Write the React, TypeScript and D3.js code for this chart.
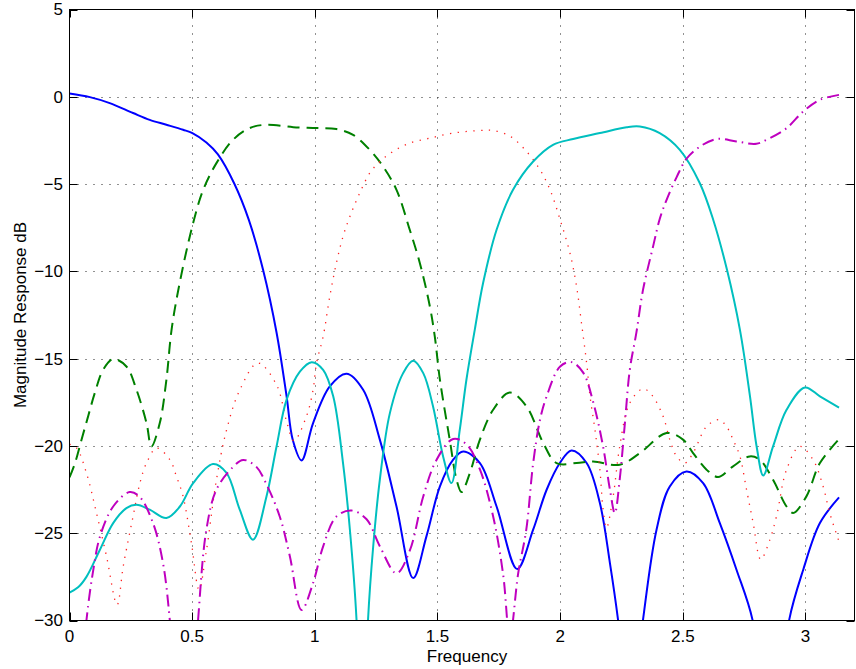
import React, { useEffect, useRef } from "react";
import * as d3 from "d3";

// Frequency axis and magnitude axis ticks
const xTicks = [0, 0.5, 1, 1.5, 2, 2.5, 3];
const yTicks = [5, 0, -5, -10, -15, -20, -25, -30];

// Filter bank magnitude responses: [frequency (rad/sample), magnitude (dB)]
const lowpass: [number, number][] = [
  [0, 0.19], [0.083, -0.02], [0.164, -0.36], [0.259, -0.93], [0.327, -1.32],
  [0.395, -1.6], [0.463, -1.89], [0.501, -2.08], [0.558, -2.62], [0.605, -3.3],
  [0.672, -4.98], [0.731, -7.05], [0.789, -9.91], [0.844, -13.5], [0.885, -17.16],
  [0.91, -19.65], [0.946, -20.83], [0.993, -18.69], [1.061, -16.59], [1.129, -15.86],
  [1.197, -16.78], [1.265, -19.64], [1.333, -23.47], [1.401, -27.57], [1.455, -25.18],
  [1.51, -22.32], [1.564, -20.79], [1.605, -20.32], [1.673, -20.98], [1.741, -23.47],
  [1.825, -27.05], [1.89, -24.8], [1.945, -22.51], [1.999, -20.98], [2.046, -20.26],
  [2.108, -20.98], [2.162, -23.27], [2.203, -26.71], [2.236, -29.95], [2.26, -33],
  [2.287, -40], [2.312, -33], [2.338, -29.95], [2.393, -24.8], [2.447, -22.32],
  [2.515, -21.46], [2.583, -22.13], [2.651, -24.42], [2.719, -27.09], [2.784, -29.95],
  [2.82, -34], [2.86, -42], [2.9, -34], [2.934, -29.95], [2.991, -27.09],
  [3.059, -24.42], [3.137, -22.95],
];

const bandpass1: [number, number][] = [
  [0, -21.8], [0.022, -21.0], [0.049, -19.64], [0.076, -18.3], [0.103, -16.97],
  [0.137, -15.64], [0.178, -15.02],
  [0.232, -15.45], [0.273, -16.78], [0.314, -18.69], [0.334, -20.03], [0.368, -18.69],
  [0.395, -16.21], [0.416, -13.35], [0.45, -10.6], [0.504, -7.23],
  [0.545, -5.33], [0.599, -3.8], [0.667, -2.46], [0.735, -1.79], [0.803, -1.6],
  [0.912, -1.74], [1.007, -1.79], [1.088, -1.85], [1.156, -2.18], [1.224, -3.04],
  [1.278, -3.99], [1.333, -5.33], [1.387, -7.62], [1.428, -9.52], [1.469, -12.01],
  [1.489, -13.73], [1.51, -16.21], [1.55, -19.64], [1.578, -21.94], [1.598, -22.64],
  [1.632, -21.55], [1.673, -19.64], [1.727, -17.93], [1.795, -16.94], [1.863, -17.74],
  [1.931, -19.83], [1.985, -20.98], [2.067, -20.98], [2.135, -20.89], [2.243, -21.08],
  [2.325, -20.41], [2.434, -19.26], [2.501, -19.64], [2.542, -20.41], [2.597, -21.36],
  [2.644, -21.78], [2.705, -21.17], [2.773, -20.6], [2.814, -20.79], [2.868, -21.94],
  [2.923, -23.47], [2.95, -23.84], [3.004, -22.89], [3.059, -20.98], [3.137, -19.61],
];

const bandpass2: [number, number][] = [
  [0, -19.9], [0.029, -20.12], [0.069, -21.55], [0.11, -23.84], [0.151, -26.33],
  [0.194, -29.1], [0.219, -26.9], [0.259, -24.04], [0.287, -22.13], [0.314, -20.98],
  [0.355, -20.12], [0.409, -20.79], [0.436, -21.75], [0.463, -22.89], [0.497, -25.56],
  [0.528, -28.24], [0.558, -26.0], [0.599, -21.94], [0.64, -19.1], [0.694, -16.8],
  [0.768, -15.25], [0.844, -16.5], [0.885, -18.6], [0.915, -19.7], [0.966, -18.3],
  [0.993, -16.78], [1.007, -15.25], [1.034, -13.73], [1.061, -11.44], [1.088, -9.52],
  [1.115, -8.0], [1.143, -6.86], [1.183, -5.52], [1.224, -4.37], [1.265, -3.71],
  [1.319, -3.13], [1.387, -2.65], [1.469, -2.37], [1.564, -2.08], [1.673, -1.93],
  [1.727, -1.93], [1.797, -2.27], [1.863, -3.13], [1.918, -4.18], [1.959, -5.33],
  [2.0, -7.04], [2.04, -8.95], [2.067, -10.86], [2.087, -12.96], [2.108, -15.25],
  [2.122, -17.16], [2.142, -19.07], [2.162, -21.35], [2.175, -23.6], [2.189, -24.7],
  [2.216, -22.9], [2.243, -20.03], [2.284, -17.54], [2.338, -16.72], [2.373, -17.07],
  [2.42, -18.31], [2.447, -19.64], [2.475, -20.6], [2.508, -20.98], [2.542, -20.41],
  [2.597, -18.88], [2.648, -18.5], [2.678, -18.88], [2.705, -19.64], [2.733, -20.6],
  [2.76, -22.51], [2.787, -24.42], [2.818, -26.5], [2.855, -25.37], [2.882, -24.04],
  [2.923, -21.36], [2.977, -20.03], [3.031, -20.79], [3.072, -22.32], [3.099, -23.84],
  [3.14, -25.6],
];

const bandpass3: [number, number][] = [
  [0, -28.4], [0.035, -28.1], [0.069, -27.5], [0.124, -25.95], [0.178, -24.42], [0.232, -23.56],
  [0.273, -23.37], [0.327, -23.65], [0.395, -24.13], [0.45, -23.47], [0.504, -22.13],
  [0.585, -21.04], [0.64, -21.55], [0.694, -23.65], [0.748, -25.37], [0.803, -22.89],
  [0.844, -20.03], [0.885, -17.35], [0.939, -15.75], [0.987, -15.2], [1.034, -15.64],
  [1.075, -17.16], [1.115, -20.98], [1.143, -24.8], [1.17, -29.95], [1.193, -40],
  [1.217, -29.95], [1.238, -25.76], [1.265, -21.94], [1.306, -18.12], [1.36, -15.83],
  [1.401, -15.12], [1.442, -15.83], [1.482, -17.74], [1.523, -20.6], [1.557, -22.13],
  [1.591, -19.07], [1.618, -16.21], [1.652, -13.35], [1.686, -10.67], [1.741, -7.62],
  [1.808, -5.33], [1.89, -3.71], [1.971, -2.75], [2.053, -2.42], [2.162, -2.08],
  [2.271, -1.74], [2.325, -1.7], [2.406, -2.08], [2.488, -3.04], [2.569, -4.94],
  [2.624, -7.04], [2.68, -9.9], [2.733, -13.35], [2.774, -17.16], [2.801, -20.03],
  [2.828, -21.69], [2.868, -20.03], [2.923, -17.93], [2.998, -16.65], [3.059, -17.16],
  [3.137, -17.8],
];

const highpass: [number, number][] = [
  [0, -45], [0.035, -36], [0.069, -30], [0.097, -27.1], [0.124, -25.2],
  [0.178, -23.47], [0.245, -22.64], [0.285, -22.9], [0.34, -24.4], [0.381, -26.7],
  [0.409, -30], [0.44, -36], [0.466, -42], [0.495, -36], [0.524, -30],
  [0.558, -24.8], [0.599, -22.5], [0.667, -21.2], [0.708, -20.8], [0.762, -21.2],
  [0.803, -22.2], [0.857, -24.04], [0.898, -26.3], [0.946, -29.4], [0.993, -27.85],
  [1.034, -25.75], [1.088, -24.04], [1.15, -23.7], [1.211, -24.2], [1.265, -25.75],
  [1.333, -27.3], [1.387, -26.0], [1.442, -22.9], [1.496, -20.8], [1.564, -19.6],
  [1.618, -19.9], [1.673, -21.35], [1.727, -24.04], [1.768, -27.4], [1.795, -31],
  [1.829, -27.3], [1.862, -24.8], [1.89, -21.0], [1.918, -18.5], [1.945, -17.16],
  [2.0, -15.45], [2.046, -15.2], [2.094, -15.8], [2.135, -17.5], [2.175, -20.03],
  [2.203, -22.5], [2.223, -23.85], [2.243, -21.9], [2.264, -18.7], [2.284, -15.64],
  [2.311, -13.5], [2.338, -11.05], [2.379, -8.57], [2.406, -7.0], [2.434, -5.9],
  [2.475, -4.6], [2.515, -3.55], [2.57, -2.85], [2.638, -2.42], [2.719, -2.56],
  [2.8, -2.69], [2.855, -2.37], [2.923, -1.8], [2.991, -0.84], [3.059, -0.17],
  [3.137, 0.11],
];

const series = [
  { name: "lowpass", data: lowpass, color: "#0000ff", width: 2, dash: "none" },
  { name: "bandpass1", data: bandpass1, color: "#008000", width: 2, dash: "12 7" },
  { name: "bandpass2", data: bandpass2, color: "#ff2020", width: 1.3, dash: "1.3 6.5" },
  { name: "bandpass3", data: bandpass3, color: "#00bfbf", width: 2, dash: "none" },
  { name: "highpass", data: highpass, color: "#bf00bf", width: 2, dash: "12 5 1.5 5" },
];

const W = 856;
const H = 669;
const plot = { left: 69.5, right: 854.5, top: 9.5, bottom: 620.5 };
const FONT = "'Liberation Sans', Arial, Helvetica, sans-serif";

const fmt = (v: number) => (v < 0 ? "\u2212" + Math.abs(v) : String(v));

export default function App() {
  const ref = useRef<SVGSVGElement | null>(null);

  useEffect(() => {
    const svg = d3.select(ref.current);
    svg.selectAll("*").remove();

    const x = d3.scaleLinear().domain([0, 3.2]).range([plot.left, plot.right]);
    const y = d3.scaleLinear().domain([-30, 5]).range([plot.bottom, plot.top]);

    svg.append("rect").attr("width", W).attr("height", H).attr("fill", "#fff");

    svg
      .append("defs")
      .append("clipPath")
      .attr("id", "plot-clip")
      .append("rect")
      .attr("x", plot.left)
      .attr("y", plot.top)
      .attr("width", plot.right - plot.left)
      .attr("height", plot.bottom - plot.top);

    // dotted grid
    const grid = svg.append("g").attr("stroke", "#222").attr("stroke-width", 1).attr("stroke-dasharray", "1 7");
    xTicks
      .filter((t) => t > 0)
      .forEach((t) => {
        const px = Math.round(x(t)) + 0.5;
        grid.append("line").attr("x1", px).attr("x2", px).attr("y1", plot.top).attr("y2", plot.bottom);
      });
    yTicks
      .filter((t) => t > -30 && t < 5)
      .forEach((t) => {
        const py = Math.round(y(t)) + 0.5;
        grid.append("line").attr("x1", plot.left).attr("x2", plot.right).attr("y1", py).attr("y2", py);
      });

    // response curves
    const line = d3
      .line<[number, number]>()
      .x((d) => x(d[0]))
      .y((d) => y(d[1]))
      .curve(d3.curveCatmullRom.alpha(0.5));

    const curves = svg.append("g").attr("clip-path", "url(#plot-clip)");
    series.forEach((s) => {
      curves
        .append("path")
        .attr("d", line(s.data) as string)
        .attr("fill", "none")
        .attr("stroke", s.color)
        .attr("stroke-width", s.width)
        .attr("stroke-dasharray", s.dash)
        .attr("stroke-linejoin", "round");
    });

    // axes box
    svg
      .append("rect")
      .attr("x", plot.left)
      .attr("y", plot.top)
      .attr("width", plot.right - plot.left)
      .attr("height", plot.bottom - plot.top)
      .attr("fill", "none")
      .attr("stroke", "#000")
      .attr("stroke-width", 1);

    // inward ticks on all four sides
    const tickLen = 8;
    const ticks = svg.append("g").attr("stroke", "#000").attr("stroke-width", 1);
    xTicks.forEach((t) => {
      const px = Math.round(x(t)) + 0.5;
      ticks.append("line").attr("x1", px).attr("x2", px).attr("y1", plot.bottom).attr("y2", plot.bottom - tickLen);
      ticks.append("line").attr("x1", px).attr("x2", px).attr("y1", plot.top).attr("y2", plot.top + tickLen);
    });
    yTicks.forEach((t) => {
      const py = Math.round(y(t)) + 0.5;
      ticks.append("line").attr("x1", plot.left).attr("x2", plot.left + tickLen).attr("y1", py).attr("y2", py);
      ticks.append("line").attr("x1", plot.right).attr("x2", plot.right - tickLen).attr("y1", py).attr("y2", py);
    });

    // tick labels
    const labels = svg.append("g").attr("font-family", FONT).attr("font-size", 17).attr("fill", "#000");
    xTicks.forEach((t) => {
      labels
        .append("text")
        .attr("x", x(t))
        .attr("y", 642)
        .attr("text-anchor", "middle")
        .text(fmt(t));
    });
    yTicks.forEach((t) => {
      labels
        .append("text")
        .attr("x", 63)
        .attr("y", y(t))
        .attr("dy", "0.35em")
        .attr("text-anchor", "end")
        .text(fmt(t));
    });

    // axis titles
    svg
      .append("text")
      .attr("x", 467)
      .attr("y", 662)
      .attr("text-anchor", "middle")
      .attr("font-family", FONT)
      .attr("font-size", 17)
      .text("Frequency");
    svg
      .append("text")
      .attr("transform", `translate(26, ${(plot.top + plot.bottom) / 2}) rotate(-90)`)
      .attr("text-anchor", "middle")
      .attr("font-family", FONT)
      .attr("font-size", 17)
      .text("Magnitude Response dB");
  }, []);

  return (
    <svg
      ref={ref}
      width={W}
      height={H}
      style={{ position: "absolute", left: 0, top: 0, display: "block" }}
    />
  );
}
